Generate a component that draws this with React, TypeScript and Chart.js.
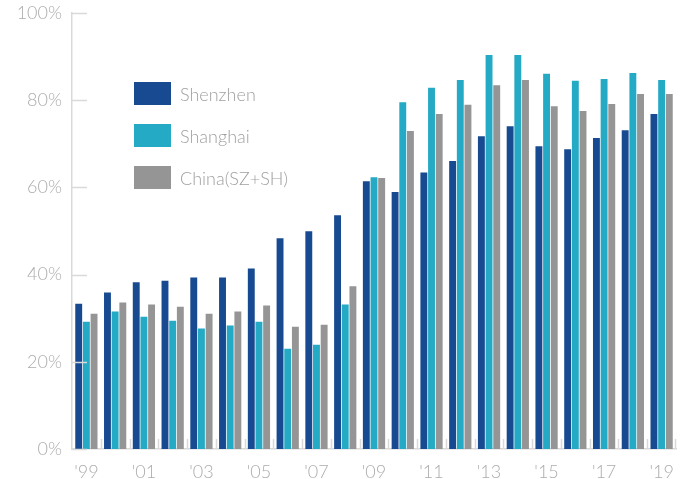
import React, { useEffect, useRef } from "react";
import { Chart, registerables } from "chart.js";

Chart.register(...registerables);

const years = ["'99","'00","'01","'02","'03","'04","'05","'06","'07","'08","'09","'10","'11","'12","'13","'14","'15","'16","'17","'18","'19"];
const shownLabels = ["'99","'01","'03","'05","'07","'09","'11","'13","'15","'17","'19"];
const shenzhen = [33.3,35.9,38.2,38.6,39.3,39.3,41.4,48.3,49.9,53.6,61.4,58.9,63.4,66.0,71.7,74.0,69.4,68.7,71.3,73.1,76.8];
const shanghai = [29.2,31.5,30.3,29.4,27.6,28.3,29.2,23.0,23.9,33.1,62.3,79.5,82.8,84.6,90.3,90.3,86.0,84.4,84.8,86.2,84.6];
const china = [31.0,33.6,33.1,32.6,31.0,31.5,32.9,28.0,28.5,37.3,62.1,72.9,76.8,78.9,83.4,84.6,78.6,77.5,79.1,81.4,81.4];
const seriesNames = ["Shenzhen","Shanghai","China(SZ+SH)"];
const seriesColors = ["#174a91","#24aac4","#959595"];
const yTicks = [0,20,40,60,80,100];

const FONT = "Lato, 'Open Sans', sans-serif";
const AXIS = "#d9d9d9";
const TEXT = "#acacac";

const innerTicks = {
  id: "innerTicks",
  afterDatasetsDraw(chart: any) {
    const { ctx, chartArea, scales } = chart;
    const x = scales.x, y = scales.y;
    ctx.save();
    ctx.strokeStyle = AXIS;
    ctx.lineWidth = 1.5;
    ctx.beginPath();
    yTicks.forEach((v) => {
      const py = Math.round(y.getPixelForValue(v)) + 0.5;
      ctx.moveTo(chartArea.left, py);
      ctx.lineTo(chartArea.left + 15, py);
    });
    const n = years.length;
    for (let i = 1; i < n; i++) {
      const px = Math.round((x.getPixelForValue(i - 1) + x.getPixelForValue(i)) / 2) + 0.5;
      ctx.moveTo(px, chartArea.bottom);
      ctx.lineTo(px, chartArea.bottom - 10);
    }
    const rx = Math.round(chartArea.right) - 0.5;
    ctx.moveTo(rx, chartArea.bottom);
    ctx.lineTo(rx, chartArea.bottom - 10);
    ctx.stroke();
    ctx.restore();
  },
};

export default function App() {
  const ref = useRef<HTMLCanvasElement | null>(null);
  useEffect(() => {
    if (!ref.current) return;
    const chart = new Chart(ref.current, {
      type: "bar",
      data: {
        labels: years,
        datasets: [shenzhen, shanghai, china].map((d, i) => ({
          label: seriesNames[i],
          data: d,
          backgroundColor: seriesColors[i],
          borderWidth: 0,
          categoryPercentage: 0.8,
          barPercentage: 0.9,
        })),
      },
      options: {
        animation: false,
        responsive: false,
        maintainAspectRatio: false,
        layout: { padding: { top: 8, right: 12, left: 0, bottom: 0 } },
        plugins: { legend: { display: false }, tooltip: { enabled: false } },
        scales: {
          x: {
            grid: { display: false },
            border: { display: true, color: AXIS, width: 1.5 },
            ticks: {
              autoSkip: false,
              maxRotation: 0,
              padding: 4,
              color: TEXT,
              font: { family: FONT, size: 18, weight: "300" as any },
              callback: (v: any, i: number) => (shownLabels.includes(years[i]) ? years[i] : ""),
            },
            afterFit: (s: any) => { s.height = 30; },
          },
          y: {
            min: 0,
            max: 100,
            grid: { display: false },
            border: { display: true, color: AXIS, width: 1.5 },
            ticks: {
              stepSize: 20,
              padding: 2,
              color: TEXT,
              font: { family: FONT, size: 18, weight: "300" as any },
              callback: (v: any) => v + "%",
            },
            afterFit: (s: any) => { s.width = 72; },
          },
        },
      },
      plugins: [innerTicks],
    });
    return () => chart.destroy();
  }, []);

  return (
    <div style={{ position: "fixed", left: 0, top: 0, width: 688, height: 479, background: "#fff" }}>
      <canvas ref={ref} width={688} height={479} style={{ position: "absolute", left: 0, top: 0 }} />
      {seriesNames.map((name, i) => (
        <div key={name} style={{ position: "absolute", left: 134, top: 82 + i * 42, height: 23, display: "flex", alignItems: "center" }}>
          <div style={{ width: 37, height: 23, background: seriesColors[i] }} />
          <span style={{ marginLeft: 9, fontFamily: FONT, fontWeight: 300, fontSize: 18, color: "#a0a0a0", whiteSpace: "nowrap" }}>{name}</span>
        </div>
      ))}
    </div>
  );
}
